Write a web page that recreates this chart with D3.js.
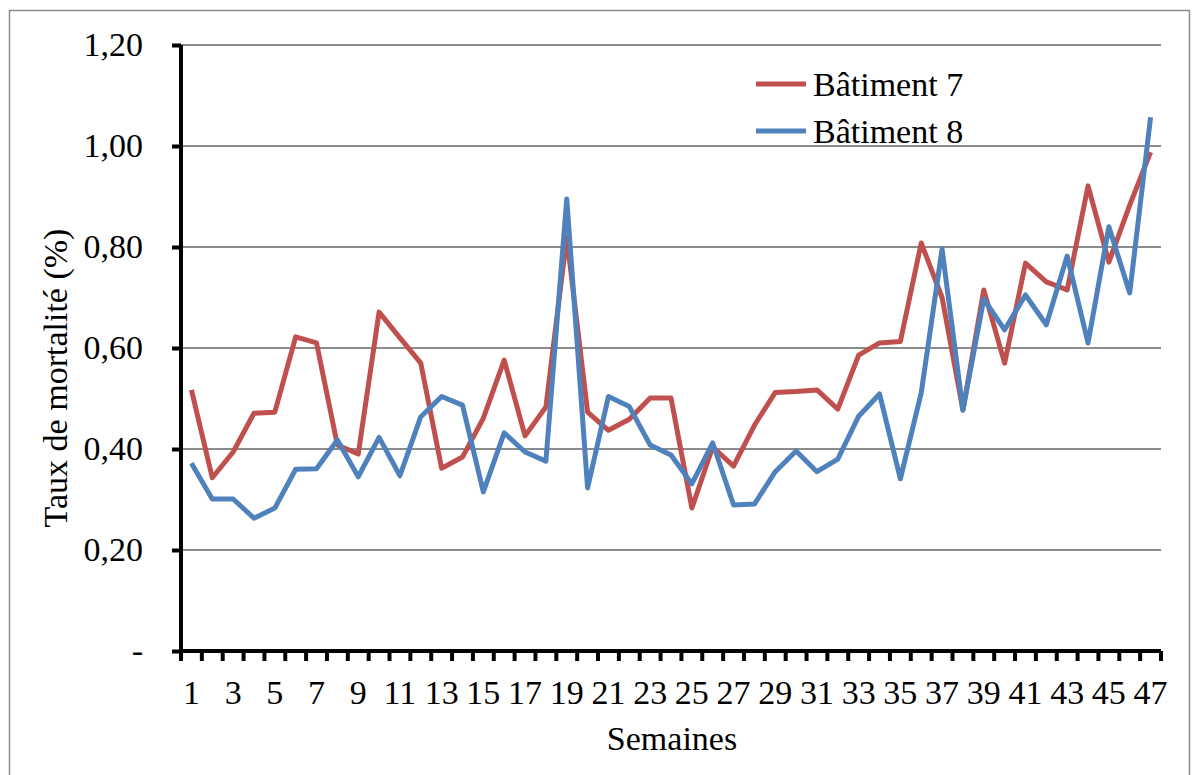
<!DOCTYPE html>
<html>
<head>
<meta charset="utf-8">
<script src="https://cdn.jsdelivr.net/npm/d3@7"></script>
<style>
  body { margin: 0; background: #fff; }
  svg text { font-family: 'Liberation Serif', 'Times New Roman', Times, 'DejaVu Serif', serif; fill: #000; }
</style>
</head>
<body>
<svg id="chart" width="1200" height="775"></svg>
<script>
// weeks 1..47
var semaines = d3.range(1, 48);
var xTickLabels = d3.range(1, 48, 2);
var yTicks = [0, 0.2, 0.4, 0.6, 0.8, 1.0, 1.2];
var seriesNames = ["Bâtiment 7", "Bâtiment 8"];

var batiment7 = [0.517, 0.343, 0.394, 0.471, 0.473, 0.622, 0.610, 0.408, 0.390, 0.671,
  0.620, 0.570, 0.362, 0.384, 0.461, 0.576, 0.426, 0.483, 0.820, 0.473,
  0.437, 0.459, 0.501, 0.501, 0.283, 0.404, 0.366, 0.447, 0.512, 0.514,
  0.517, 0.479, 0.586, 0.610, 0.613, 0.808, 0.700, 0.477, 0.715, 0.570,
  0.768, 0.731, 0.715, 0.921, 0.770, 0.883, 0.988];

var batiment8 = [0.372, 0.301, 0.301, 0.263, 0.283, 0.360, 0.361, 0.418, 0.345, 0.423,
  0.347, 0.464, 0.504, 0.487, 0.315, 0.432, 0.394, 0.376, 0.895, 0.323,
  0.504, 0.484, 0.408, 0.388, 0.331, 0.412, 0.289, 0.291, 0.355, 0.396,
  0.355, 0.380, 0.465, 0.509, 0.341, 0.511, 0.796, 0.477, 0.697, 0.636,
  0.705, 0.646, 0.782, 0.610, 0.840, 0.709, 1.057];

var colors = ["#C0504D", "#4F81BD"];
var serif = "'Liberation Serif', 'Times New Roman', Times, 'DejaVu Serif', serif";
var fontSize = 34;

var svg = d3.select("#chart").attr("font-family", serif),
    margin = {top: 45, right: 39, bottom: 124, left: 181},
    width = +svg.attr("width") - margin.left - margin.right,
    height = +svg.attr("height") - margin.top - margin.bottom;

// outer frame
svg.append("rect")
  .attr("x", 9.5).attr("y", 10.5)
  .attr("width", 1180).attr("height", 790)
  .attr("fill", "none")
  .attr("stroke", "#8c8c8c")
  .attr("stroke-width", 1.5);

var x = d3.scaleBand().domain(semaines).range([0, width]);
var y = d3.scaleLinear().domain([0, 1.2]).range([height, 0]);

var g = svg.append("g")
  .attr("transform", "translate(" + margin.left + "," + margin.top + ")");

// gridlines
g.selectAll("line.grid")
  .data(yTicks.slice(1))
  .enter().append("line")
  .attr("class", "grid")
  .attr("x1", 0).attr("x2", width)
  .attr("y1", function(d) { return y(d); })
  .attr("y2", function(d) { return y(d); })
  .attr("stroke", "#8c8c8c")
  .attr("stroke-width", 2);

// y axis
var fmt = function(d) { return d === 0 ? "-" : d3.format(".2f")(d).replace(".", ","); };
var yAxis = g.append("g")
  .call(d3.axisLeft(y).tickValues(yTicks).tickFormat(fmt).tickSize(9).tickPadding(29));
yAxis.attr("font-family", serif).attr("font-size", fontSize);
yAxis.select(".domain").attr("stroke", "#000").attr("stroke-width", 4)
  .attr("d", "M0," + height + "V0");
yAxis.selectAll(".tick line").attr("stroke", "#000").attr("stroke-width", 4);
yAxis.selectAll(".tick text").attr("fill", "#000");

// x axis: ticks at band boundaries, labels on odd weeks
var xg = g.append("g").attr("transform", "translate(0," + height + ")");
xg.append("line")
  .attr("x1", -2).attr("x2", width)
  .attr("stroke", "#000").attr("stroke-width", 4);
xg.selectAll("line.tk")
  .data(d3.range(0, semaines.length + 1))
  .enter().append("line")
  .attr("class", "tk")
  .attr("x1", function(i) { return i * x.step(); })
  .attr("x2", function(i) { return i * x.step(); })
  .attr("y1", 0).attr("y2", 10)
  .attr("stroke", "#000").attr("stroke-width", 4);
xg.selectAll("text.lbl")
  .data(xTickLabels)
  .enter().append("text")
  .attr("class", "lbl")
  .attr("x", function(d) { return x(d) + x.bandwidth() / 2; })
  .attr("y", 53)
  .attr("text-anchor", "middle")
  .attr("font-size", fontSize)
  .text(function(d) { return d; });

// lines
var line = d3.line()
  .x(function(d, i) { return x(semaines[i]) + x.bandwidth() / 2; })
  .y(function(d) { return y(d); });

[batiment7, batiment8].forEach(function(s, k) {
  g.append("path")
    .datum(s)
    .attr("fill", "none")
    .attr("stroke", colors[k])
    .attr("stroke-width", 5)
    .attr("stroke-linejoin", "round")
    .attr("d", line);
});

// axis titles
svg.append("text")
  .attr("transform", "translate(55," + (margin.top + height / 2 + 30) + ") rotate(-90)")
  .attr("text-anchor", "middle")
  .attr("dy", "0.35em")
  .attr("font-size", fontSize)
  .text("Taux de mortalité (%)");

svg.append("text")
  .attr("x", 672).attr("y", 750)
  .attr("text-anchor", "middle")
  .attr("font-size", fontSize)
  .text("Semaines");

// legend
var legend = svg.append("g").attr("transform", "translate(756,84)");
seriesNames.forEach(function(name, k) {
  var row = legend.append("g").attr("transform", "translate(0," + (k * 47) + ")");
  row.append("line")
    .attr("x1", 0).attr("x2", 50)
    .attr("stroke", colors[k]).attr("stroke-width", 5);
  row.append("text")
    .attr("x", 57).attr("dy", "0.35em")
    .attr("font-size", fontSize)
    .text(name);
});
</script>
</body>
</html>
